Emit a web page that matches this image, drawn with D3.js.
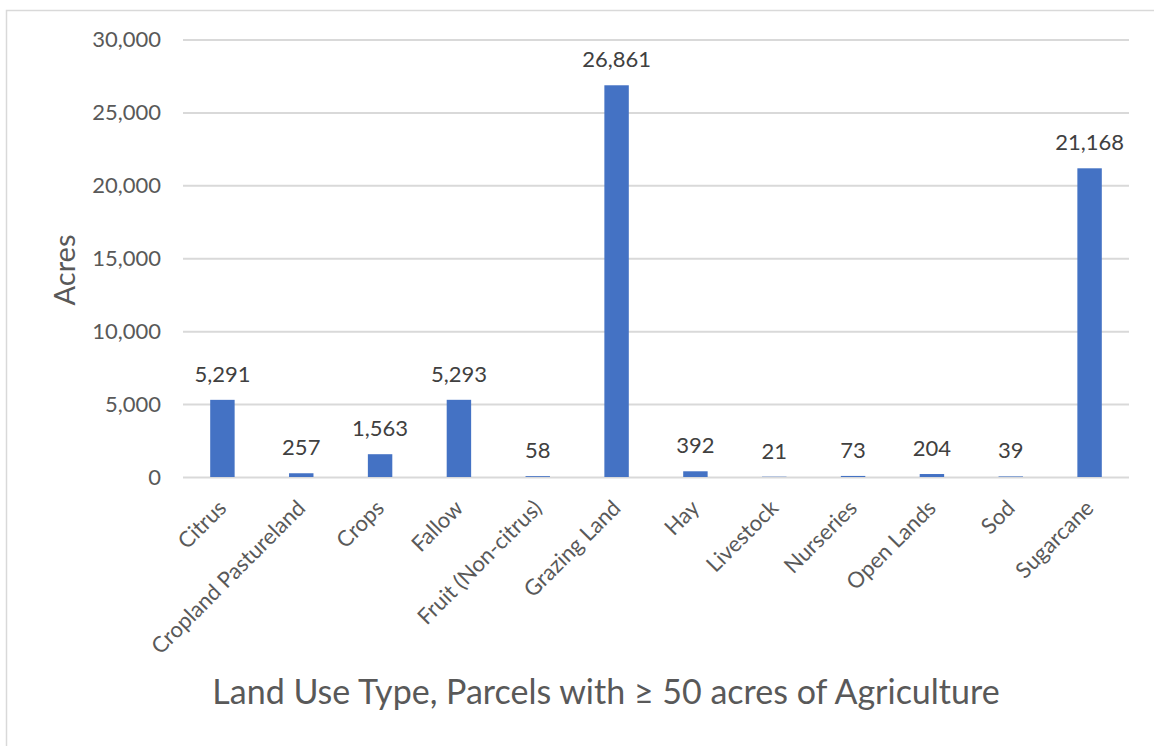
<!DOCTYPE html>
<html><head><meta charset="utf-8">
<script src="https://cdn.jsdelivr.net/npm/d3@7"></script>
<style>body{margin:0;background:#fff}svg{display:block}text{font-family:Lato,"Open Sans",sans-serif}</style>
</head><body><svg id="c" width="1154" height="746"></svg>
<script>
const categories = ["Citrus","Cropland Pastureland","Crops","Fallow","Fruit (Non-citrus)","Grazing Land","Hay","Livestock","Nurseries","Open Lands","Sod","Sugarcane"];
const values = [5291,257,1563,5293,58,26861,392,21,73,204,39,21168];
const yTicks = [0,5000,10000,15000,20000,25000,30000];

const svg = d3.select("#c");
svg.append("rect").attr("x",6.5).attr("y",10.5).attr("width",1160).attr("height",760)
  .attr("fill","#fff").attr("stroke","#d9d9d9").attr("stroke-width",1.5);

const m = {l:183, r:1129, t:39.5, b:477};
const x = d3.scaleBand().domain(categories).range([m.l,m.r]).paddingInner(0.69).paddingOuter(0.345);
const y = d3.scaleLinear().domain([0,30000]).range([m.b,m.t]);
const fmt = d3.format(",");

const ga = svg.append("g").attr("transform",`translate(${m.l},0)`)
  .call(d3.axisLeft(y).tickValues(yTicks).tickFormat(fmt).tickSize(-(m.r-m.l)).tickPadding(22));
ga.select(".domain").remove();
ga.selectAll(".tick line").attr("stroke","#d9d9d9").attr("stroke-width",2);
ga.selectAll(".tick text").attr("fill","#595959").style("font-size","22px").style("font-family","Lato,'Open Sans',sans-serif");

svg.append("g").selectAll("rect").data(values).join("rect")
  .attr("x",(d,i)=>x(categories[i])).attr("width",x.bandwidth())
  .attr("y",d=>y(d)).attr("height",d=>m.b-y(d)).attr("fill","#4472C4");

svg.append("g").selectAll("text").data(values).join("text")
  .attr("x",(d,i)=>x(categories[i])+x.bandwidth()/2).attr("y",d=>y(d)-18)
  .attr("text-anchor","middle").attr("fill","#404040").style("font-size","22px").text(d=>fmt(d));

const gx = svg.append("g").attr("transform",`translate(${x.bandwidth()/2 - x.bandwidth()/2},${m.b})`)
  .call(d3.axisBottom(x).tickSize(0).tickPadding(0));
gx.select(".domain").remove();
gx.selectAll(".tick text").attr("fill","#595959").style("font-size","22px").style("font-family","Lato,'Open Sans',sans-serif")
  .attr("text-anchor","end").attr("y",0).attr("x",0).attr("dy","0.35em")
  .attr("transform","translate(0,27) rotate(-45)");

svg.append("text").attr("transform","translate(75,270) rotate(-90)").attr("text-anchor","middle")
  .attr("fill","#595959").style("font-size","29px").text("Acres");
svg.append("text").attr("x",606).attr("y",704).attr("text-anchor","middle")
  .attr("fill","#595959").style("font-size","34px").text("Land Use Type, Parcels with ≥ 50 acres of Agriculture");
</script></body></html>
